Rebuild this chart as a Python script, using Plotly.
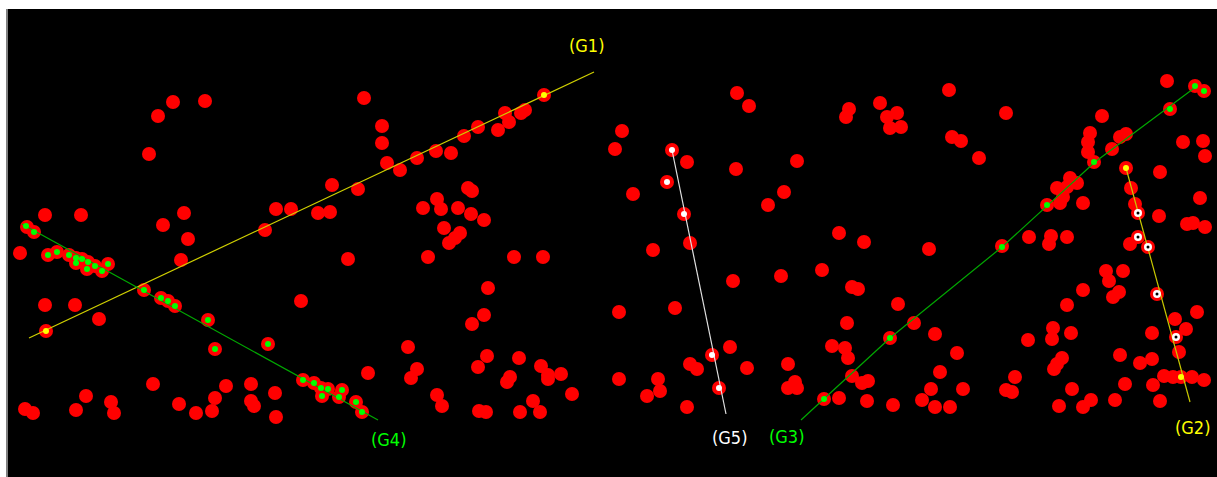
import plotly.graph_objects as go

# ---- all detected points (pixel coordinates, y measured downward) ----
red_x = [364,173,205,158,382,382,149,387,400,332,358,276,291,318,330,265,45,81,184,163,188,
         27,34,20,181,348,
         48,57,69,76,82,76,88,95,87,102,108,
         144,161,168,175,208,215,268,
         45,75,99,46,301,368,
         303,314,321,328,322,339,342,356,362,
         153,86,25,33,76,111,114,179,196,212,215,226,251,251,254,275,276,
         544,525,521,505,509,498,478,464,451,436,417,
         622,615,737,749,672,667,684,690,687,736,797,784,768,633,
         468,472,437,423,441,458,471,484,444,460,455,449,
         428,514,543,653,488,484,472,408,487,478,519,541,417,411,510,507,548,548,561,437,442,572,533,540,479,486,520,
         619,675,733,781,730,712,719,690,697,747,788,619,658,660,647,687,795,788,797,
         1167,1195,1204,1170,949,880,849,846,897,887,890,901,1006,1102,952,961,979,
         1090,1088,1088,1112,1120,1126,1094,1183,1203,1205,1126,1131,1160,1200,1159,1187,1193,1205,1135,
         1138,1138,1148,
         1070,1077,1057,1067,1063,1060,1047,1083,
         839,864,1002,1029,1051,1049,1067,1130,
         929,822,852,858,898,847,832,845,848,890,914,935,957,940,852,862,868,824,839,867,893,922,931,935,950,963,
         1015,1006,1012,1028,1053,1052,1071,1083,1067,1106,1109,1123,1119,1113,1062,1057,1054,1072,1059,1083,1091,
         1115,1125,1120,1140,1152,1152,1175,1186,1197,1157,1176,1179,1164,1173,1181,1192,1204,1153,1160]
red_y = [98,102,101,116,126,143,154,163,170,185,189,209,209,213,212,230,215,215,213,225,239,
         227,232,253,260,259,
         255,252,255,258,259,263,262,266,269,271,264,
         290,298,301,306,320,349,344,
         305,305,319,331,301,373,
         380,383,388,389,396,397,390,402,412,
         384,396,409,413,410,402,413,404,413,411,398,386,384,401,406,393,417,
         95,110,113,113,122,130,127,136,153,151,158,
         131,149,93,106,150,182,214,243,162,169,161,192,205,194,
         188,191,199,208,209,208,214,220,228,233,238,243,
         257,257,257,250,288,315,324,347,356,367,358,366,369,378,377,382,375,379,374,395,406,394,401,412,411,412,412,
         312,308,281,276,347,355,388,364,369,368,364,379,379,391,396,407,382,388,388,
         81,86,91,109,90,103,109,117,113,117,128,127,113,116,137,141,158,
         133,142,152,149,137,134,162,142,141,156,168,188,172,198,216,224,223,227,204,
         213,237,247,
         178,183,188,187,197,203,205,203,
         233,242,246,237,236,244,237,244,
         249,270,287,289,304,323,346,348,358,338,323,334,353,372,376,383,381,399,398,401,405,400,389,407,407,389,
         377,390,392,340,328,339,333,290,305,271,281,271,292,297,358,364,369,389,406,407,400,
         400,384,355,363,359,333,319,329,312,294,337,352,376,377,377,377,380,385,401]

# points marked with a green centre (groups G3 and G4)
green_x = [26,34,48,57,69,76,82,76,88,95,87,102,108,144,161,168,175,208,215,268,
           303,314,321,328,322,339,342,356,362,
           824,890,1002,1047,1094,1170,1195,1204]
green_y = [226,232,255,252,255,258,259,263,262,266,269,271,264,290,298,301,306,320,349,344,
           380,383,388,389,396,397,390,402,412,
           399,338,247,205,162,109,86,91]

# yellow centres (end points of G1 and G2)
yellow_x = [46,544,1126,1181]
yellow_y = [331,95,168,377]

# white centres (G5)
white_x = [672,667,684,712,719]
white_y = [150,182,214,355,388]

# white rings (G2)
ring_x = [1138,1138,1148,1157,1176]
ring_y = [213,237,247,294,337]

# fitted lines
g1_x, g1_y = [29,594], [338,72]
g4_x, g4_y = [22,378], [224,420]
g5_x, g5_y = [672,726], [150,414]
g3_x, g3_y = [801,890,1002,1095,1197], [420,338,247,162,86]
g2_x, g2_y = [1126,1190], [168,402]

# labels
label_text = ["(G1)","(G4)","(G5)","(G3)","(G2)"]
label_x = [587,389,730,787,1193]
label_y = [45,439,437,436,427]
label_col = ["#FFFF00","#00FF00","#FFFFFF","#00FF00","#FFFF00"]

fig = go.Figure()
fig.add_trace(go.Scatter(x=red_x, y=red_y, mode="markers",
                         marker=dict(size=14, color="#FF0000", line=dict(width=0))))
for lx, ly, col in [(g1_x, g1_y, "#D0D000"), (g4_x, g4_y, "#00A800"),
                    (g5_x, g5_y, "#E0E0E0"), (g3_x, g3_y, "#00A800"),
                    (g2_x, g2_y, "#C8C800")]:
    fig.add_trace(go.Scatter(x=lx, y=ly, mode="lines", line=dict(color=col, width=1.2)))
fig.add_trace(go.Scatter(x=green_x, y=green_y, mode="markers",
                         marker=dict(size=6, color="#00FF00", line=dict(width=0))))
fig.add_trace(go.Scatter(x=yellow_x, y=yellow_y, mode="markers",
                         marker=dict(size=6, color="#FFFF00", line=dict(width=0))))
fig.add_trace(go.Scatter(x=white_x, y=white_y, mode="markers",
                         marker=dict(size=6, color="#FFFFFF", line=dict(width=0))))
fig.add_trace(go.Scatter(x=ring_x, y=ring_y, mode="markers",
                         marker=dict(size=8, color="#FFFFFF", line=dict(width=0))))
fig.add_trace(go.Scatter(x=ring_x, y=ring_y, mode="markers",
                         marker=dict(size=3, color="#000000", line=dict(width=0))))

for t, x, y, c in zip(label_text, label_x, label_y, label_col):
    fig.add_annotation(x=x, y=y, text=t, showarrow=False,
                       font=dict(family="DejaVu Sans Condensed, Liberation Sans Narrow, sans-serif",
                                 size=18, color=c))

fig.update_layout(width=1217, height=477, margin=dict(l=8, r=0, t=9, b=0),
                  paper_bgcolor="#FFFFFF", plot_bgcolor="#000000",
                  showlegend=False, hovermode=False)
fig.update_xaxes(range=[8, 1217], showgrid=False, zeroline=False, showticklabels=False, ticks="")
fig.update_yaxes(range=[477, 9], showgrid=False, zeroline=False, showticklabels=False, ticks="",
                 showline=True, linecolor="#808080", linewidth=2)
fig.write_html("out.html", config={"displayModeBar": False},
               post_script="document.body.style.margin='0';document.body.style.overflow='hidden';")
